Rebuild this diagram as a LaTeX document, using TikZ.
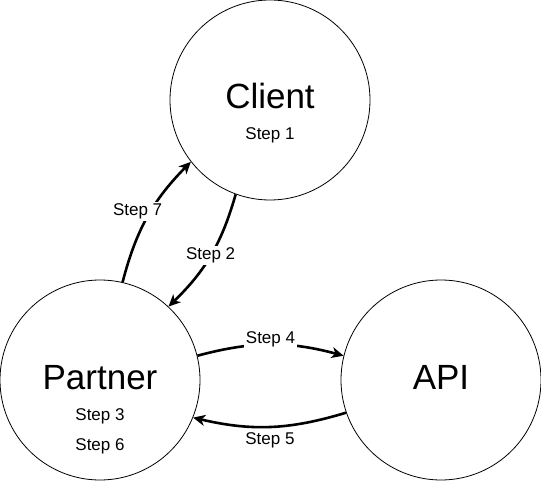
\documentclass[tikz,border=0pt]{standalone}
\usepackage{fontspec}
\setmainfont{Liberation Sans}
\usetikzlibrary{arrows.meta}

\begin{document}
\begin{tikzpicture}[x=1pt, y=1pt, line join=bevel]

                \tikzset{
                  party_circle/.style = {circle, draw=black, line width=0.8pt, minimum size=200pt, inner sep=0pt},
                  name_text/.style    = {font=\fontsize{35}{40}\selectfont, anchor=base, inner sep=0pt},
                  step_text/.style    = {font=\fontsize{17}{20}\selectfont, inner sep=1.5pt},
                  flow_arrow/.style   = {line width=2.6pt, -{Stealth[length=12pt, width=11pt, inset=3.5pt]}, bend left=15}
                }

                \useasboundingbox (0,0) rectangle (541,-481);

                % the three parties
                \foreach \who/\x/\y/\txt in {
                    client/270/-100/Client,
                    partner/100/-380/Partner,
                    api/441/-380/API
                }{
                    \node[party_circle] (\who) at (\x,\y) {};
                    \node[name_text] (\who-name) at ([yshift=-9]\who.center) {\txt};
                }

                % steps done inside a party
                \foreach \who/\dy/\txt/\id in {
                    client/40/Step 1/step1,
                    partner/40/Step 3/step3,
                    partner/70/Step 6/step6
                }{
                    \node[step_text, anchor=base] (\id) at ([yshift=-\dy]\who.center) {\txt};
                }

                % flows between parties
                \draw[flow_arrow] (client.250)  to node[step_text, fill=white] (step2) {Step 2} (partner.47);
                \draw[flow_arrow] (partner.14)  to node[step_text, fill=white, yshift=5.5] (step4) {Step 4} (api.166);
                \draw[flow_arrow] (api.199)     to node[step_text, below=3pt, inner sep=2pt] (step5) {Step 5} (partner.338);
                \draw[flow_arrow] (partner.77)  to node[step_text, fill=white, xshift=-10, yshift=5.5] (step7) {Step 7} (client.218);

            \end{tikzpicture}
\end{document}
